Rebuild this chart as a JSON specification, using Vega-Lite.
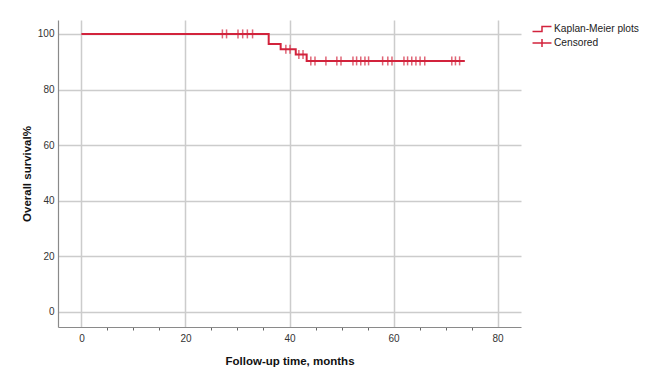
{
  "$schema": "https://vega.github.io/schema/vega-lite/v6.json",
  "width": 463,
  "height": 307,
  "autosize": {"type": "none"},
  "padding": {"left": 58, "top": 20, "right": 125, "bottom": 50},
  "background": "white",
  "config": {
    "view": {"stroke": null},
    "font": "Liberation Sans",
    "axis": {
      "labelFont": "Liberation Sans",
      "titleFont": "Liberation Sans",
      "labelFontSize": 10,
      "labelColor": "#333333",
      "titleFontSize": 11.5,
      "titleFontWeight": "bold",
      "titleColor": "#111111",
      "domainColor": "#8a8a8a",
      "domainWidth": 1.2,
      "gridColor": "#cccccc",
      "gridWidth": 1.5,
      "tickColor": "#666666"
    }
  },
  "datasets": {
    "km": [
      {"t": 0, "s": 100},
      {"t": 36.0, "s": 96.4},
      {"t": 38.3, "s": 94.5},
      {"t": 41.2, "s": 92.6},
      {"t": 43.3, "s": 90.3},
      {"t": 73.7, "s": 90.3}
    ],
    "cens": [
      {"t": 27.1, "s": 100}, {"t": 27.9, "s": 100}, {"t": 30.1, "s": 100}, {"t": 31.0, "s": 100}, {"t": 31.9, "s": 100}, {"t": 32.9, "s": 100},
      {"t": 39.3, "s": 94.5}, {"t": 40.1, "s": 94.5},
      {"t": 41.8, "s": 92.6}, {"t": 42.6, "s": 92.6},
      {"t": 44.1, "s": 90.3}, {"t": 44.9, "s": 90.3}, {"t": 47.0, "s": 90.3}, {"t": 49.1, "s": 90.3}, {"t": 49.9, "s": 90.3},
      {"t": 52.2, "s": 90.3}, {"t": 52.9, "s": 90.3}, {"t": 53.7, "s": 90.3}, {"t": 54.5, "s": 90.3}, {"t": 55.2, "s": 90.3},
      {"t": 57.9, "s": 90.3}, {"t": 58.9, "s": 90.3}, {"t": 59.7, "s": 90.3},
      {"t": 62.0, "s": 90.3}, {"t": 62.7, "s": 90.3}, {"t": 63.5, "s": 90.3}, {"t": 64.3, "s": 90.3}, {"t": 65.1, "s": 90.3}, {"t": 66.0, "s": 90.3},
      {"t": 71.2, "s": 90.3}, {"t": 71.9, "s": 90.3}, {"t": 72.7, "s": 90.3}
    ]
  },
  "encoding": {
    "x": {
      "field": "t", "type": "quantitative",
      "scale": {"domain": [-4.5, 84.5], "nice": false, "zero": false},
      "axis": {
        "title": "Follow-up time, months",
        "values": [0, 5, 10, 15, 20, 25, 30, 35, 40, 45, 50, 55, 60, 65, 70, 75, 80],
        "labelExpr": "datum.value % 20 == 0 ? datum.label : ''",
        "gridOpacity": {"condition": {"test": "datum.value % 20 == 0", "value": 1}, "value": 0},
        "tickOpacity": {"condition": {"test": "datum.value % 20 == 0", "value": 0}, "value": 1},
        "tickSize": 3,
        "labelPadding": 3,
        "titlePadding": 12
      }
    },
    "y": {
      "field": "s", "type": "quantitative",
      "scale": {"domain": [-5.4, 105], "nice": false, "zero": false},
      "axis": {
        "title": "Overall survival%",
        "values": [0, 20, 40, 60, 80, 100],
        "ticks": false,
        "labelPadding": 4,
        "titlePadding": 5
      }
    },
    "color": {
      "field": "series", "type": "nominal",
      "scale": {"domain": ["Kaplan-Meier plots", "Censored"], "range": ["#d2233c", "#d2233c"]},
      "legend": {
        "title": null,
        "orient": "none",
        "legendX": 477,
        "legendY": 2,
        "labelFont": "Liberation Sans",
        "labelFontSize": 10.2,
        "labelColor": "#222222",
        "labelOffset": 5,
        "rowPadding": 0,
        "symbolSize": 144,
        "symbolFillColor": "transparent",
        "symbolStrokeWidth": 1.5,
        "encode": {
          "symbols": {
            "update": {
              "shape": {"signal": "datum.label == 'Censored' ? 'M-1.58,0L1.58,0M0,-0.67L0,0.67' : 'M-1.58,0.42L0,0.42L0,-0.42L1.58,-0.42'"},
              "fill": {"value": "transparent"},
              "fillOpacity": {"value": 0},
              "stroke": {"value": "#d2233c"},
              "strokeWidth": {"value": 1.5},
              "size": {"value": 144},
              "opacity": {"value": 1}
            }
          }
        }
      }
    }
  },
  "layer": [
    {
      "data": {"name": "km"},
      "transform": [{"calculate": "'Kaplan-Meier plots'", "as": "series"}],
      "mark": {"type": "line", "interpolate": "step-after", "strokeWidth": 2}
    },
    {
      "data": {"name": "cens"},
      "transform": [{"calculate": "'Censored'", "as": "series"}],
      "mark": {"type": "tick", "orient": "vertical", "size": 9, "thickness": 1.5}
    }
  ]
}
